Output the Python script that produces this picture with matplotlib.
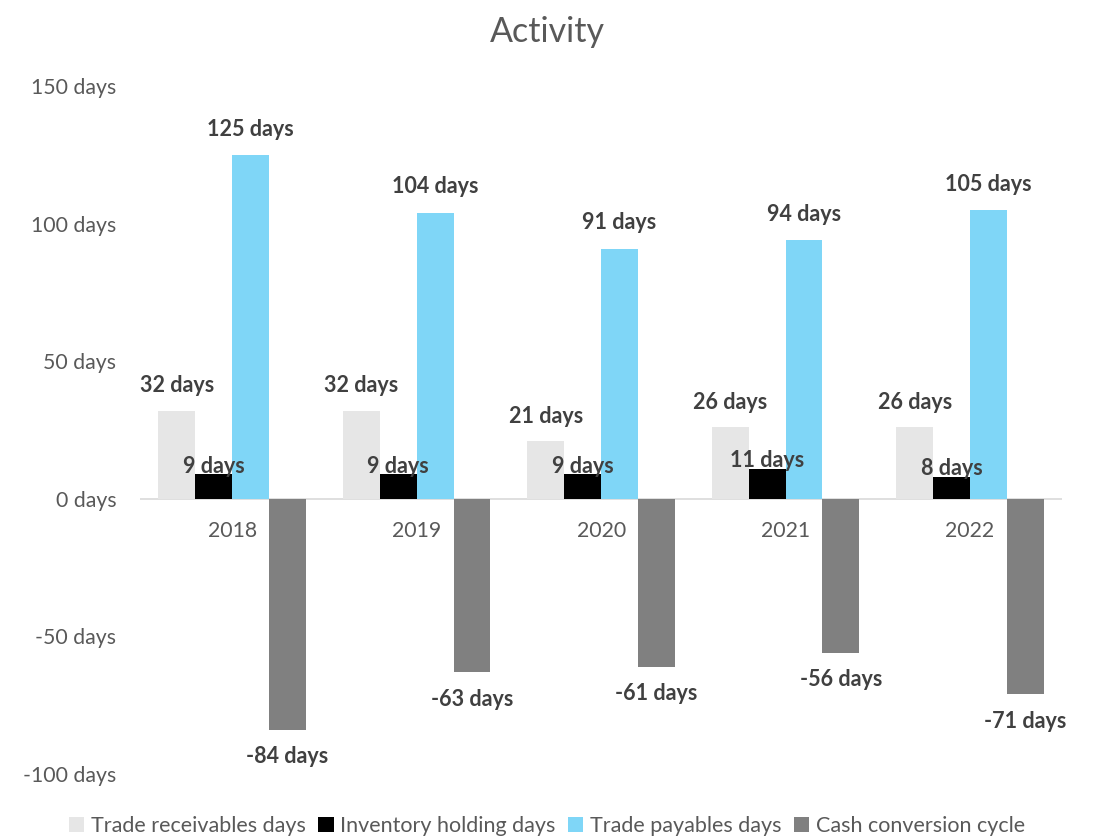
import matplotlib
matplotlib.use("Agg")
import matplotlib.pyplot as plt
import numpy as np

years = ["2018", "2019", "2020", "2021", "2022"]
receivables = [32, 32, 21, 26, 26]
inventory = [9, 9, 9, 11, 8]
payables = [125, 104, 91, 94, 105]
ccc = [-84, -63, -61, -56, -71]
series_names = ["Trade receivables days", "Inventory holding days",
                "Trade payables days", "Cash conversion cycle"]
colors = ["#e6e6e6", "#000000", "#7fd6f7", "#808080"]
yticks = [-100, -50, 0, 50, 100, 150]

plt.rcParams['font.family'] = ['Lato', 'DejaVu Sans']

fig = plt.figure(figsize=(10.94, 8.38), dpi=100)
ax = fig.add_axes([0.128, 0.0764, 0.843, 0.8206])

x = np.arange(len(years))
w = 0.2
data = [receivables, inventory, payables, ccc]
label_offsets = [25, 8, 26, -27]
for i, (vals, col, name, off) in enumerate(zip(data, colors, series_names, label_offsets)):
    pos = x + (i - 1.5) * w
    ax.bar(pos, vals, width=w, color=col, label=name, zorder=2)
    for px, v in zip(pos, vals):
        ax.annotate(f"{v} days", (px, v), xytext=(0, off), textcoords='offset pixels',
                    ha='center', va='center', fontsize=15.5, fontweight='bold',
                    color='#404040', zorder=3)

ax.set_xlim(-0.5, len(years) - 0.5)
ax.set_ylim(-100, 150)
ax.set_yticks(yticks)
ax.set_yticklabels([f"{t} days" for t in yticks], fontsize=15.3, color='#595959')
ax.tick_params(axis='y', length=0, pad=17)
ax.set_xticks([])
for s in ax.spines.values():
    s.set_visible(False)
ax.axhline(0, color='#d9d9d9', lw=1.2, zorder=1)
for xi, yr in zip(x, years):
    ax.text(xi, -11.5, yr, ha='center', va='center', fontsize=15.3, color='#595959')

fig.text(0.5, 0.962, "Activity", ha='center', va='center', fontsize=24.5, color='#595959')

leg = fig.legend(loc='center', bbox_to_anchor=(0.5, 0.014), ncol=4, frameon=False,
                 fontsize=15.5, handlelength=0.7, handleheight=0.7, handletextpad=0.3,
                 columnspacing=0.6)
for t in leg.get_texts():
    t.set_color('#595959')

fig.savefig("out.png", dpi=100)
